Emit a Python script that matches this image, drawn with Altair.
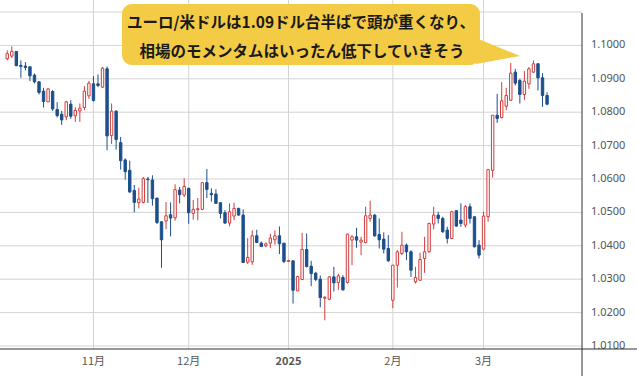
import altair as alt
import pandas as pd

# ---- data (daily EUR/USD candles, 2024-10-07 .. 2025-03-21) ----
dates = pd.bdate_range("2024-10-07", "2025-03-21").strftime("%Y-%m-%d").tolist()

opens = [
    1.0960, 1.0968, 1.0982, 1.0940, 1.0938, 1.0936, 1.0911, 1.0891, 1.0863, 1.0831,
    1.0862, 1.0808, 1.0794, 1.0786, 1.0824, 1.0789, 1.0804, 1.0814, 1.0849, 1.0885,
    1.0885, 1.0875, 1.0930, 1.0730, 1.0803, 1.0709, 1.0657, 1.0626, 1.0566, 1.0529,
    1.0530, 1.0600, 1.0597, 1.0543, 1.0472, 1.0474, 1.0493, 1.0484, 1.0567, 1.0552,
    1.0572, 1.0497, 1.0508, 1.0509, 1.0589, 1.0557, 1.0555, 1.0529, 1.0499, 1.0468,
    1.0489, 1.0512, 1.0492, 1.0351, 1.0352, 1.0430, 1.0408, 1.0400, 1.0408, 1.0418,
    1.0430, 1.0408, 1.0353, 1.0355, 1.0265, 1.0299, 1.0389, 1.0339, 1.0318, 1.0300,
    1.0243, 1.0240, 1.0307, 1.0290, 1.0305, 1.0290, 1.0417, 1.0427, 1.0411, 1.0410,
    1.0482, 1.0492, 1.0434, 1.0420, 1.0392, 1.0237, 1.0342, 1.0377, 1.0402, 1.0382,
    1.0292, 1.0297, 1.0362, 1.0382, 1.0465, 1.0492, 1.0482, 1.0447, 1.0422, 1.0505,
    1.0477, 1.0462, 1.0517, 1.0487, 1.0402, 1.0390, 1.0487, 1.0626, 1.0791, 1.0784,
    1.0818, 1.0836, 1.0920, 1.0895, 1.0853, 1.0885, 1.0920, 1.0945, 1.0903, 1.0850,
]
highs = [
    1.0985, 1.0997, 1.0983, 1.0955, 1.0950, 1.0936, 1.0916, 1.0893, 1.0873, 1.0870,
    1.0866, 1.0830, 1.0804, 1.0834, 1.0836, 1.0815, 1.0826, 1.0878, 1.0893, 1.0908,
    1.0913, 1.0935, 1.0937, 1.0826, 1.0806, 1.0726, 1.0662, 1.0655, 1.0582, 1.0574,
    1.0606, 1.0606, 1.0611, 1.0543, 1.0472, 1.0531, 1.0530, 1.0584, 1.0576, 1.0602,
    1.0574, 1.0537, 1.0543, 1.0591, 1.0630, 1.0572, 1.0569, 1.0530, 1.0507, 1.0527,
    1.0529, 1.0514, 1.0509, 1.0423, 1.0446, 1.0448, 1.0413, 1.0410, 1.0436, 1.0446,
    1.0458, 1.0408, 1.0358, 1.0356, 1.0310, 1.0439, 1.0437, 1.0355, 1.0322, 1.0311,
    1.0249, 1.0309, 1.0337, 1.0316, 1.0312, 1.0436, 1.0432, 1.0454, 1.0427, 1.0517,
    1.0535, 1.0495, 1.0482, 1.0440, 1.0432, 1.0342, 1.0387, 1.0442, 1.0407, 1.0387,
    1.0337, 1.0379, 1.0427, 1.0469, 1.0517, 1.0502, 1.0487, 1.0457, 1.0505, 1.0507,
    1.0527, 1.0522, 1.0527, 1.0487, 1.0417, 1.0502, 1.0628, 1.0791, 1.0855, 1.0890,
    1.0873, 1.0947, 1.0930, 1.0900, 1.0923, 1.0935, 1.0955, 1.0947, 1.0917, 1.0860,
]
lows = [
    1.0955, 1.0962, 1.0938, 1.0903, 1.0925, 1.0893, 1.0886, 1.0853, 1.0814, 1.0830,
    1.0804, 1.0784, 1.0762, 1.0776, 1.0780, 1.0771, 1.0771, 1.0806, 1.0840, 1.0832,
    1.0875, 1.0872, 1.0686, 1.0705, 1.0688, 1.0628, 1.0598, 1.0559, 1.0500, 1.0512,
    1.0527, 1.0528, 1.0520, 1.0465, 1.0334, 1.0450, 1.0428, 1.0475, 1.0527, 1.0546,
    1.0466, 1.0478, 1.0476, 1.0507, 1.0543, 1.0532, 1.0526, 1.0482, 1.0466, 1.0458,
    1.0477, 1.0490, 1.0348, 1.0345, 1.0343, 1.0408, 1.0396, 1.0396, 1.0393, 1.0403,
    1.0375, 1.0348, 1.0352, 1.0227, 1.0264, 1.0297, 1.0335, 1.0279, 1.0294, 1.0216,
    1.0177, 1.0237, 1.0263, 1.0268, 1.0266, 1.0287, 1.0342, 1.0394, 1.0372, 1.0407,
    1.0472, 1.0427, 1.0392, 1.0377, 1.0352, 1.0213, 1.0275, 1.0372, 1.0357, 1.0307,
    1.0287, 1.0295, 1.0319, 1.0379, 1.0449, 1.0467, 1.0439, 1.0407, 1.0421, 1.0457,
    1.0457, 1.0455, 1.0467, 1.0395, 1.0362, 1.0387, 1.0472, 1.0604, 1.0768, 1.0781,
    1.0806, 1.0834, 1.0880, 1.0826, 1.0836, 1.0870, 1.0917, 1.0865, 1.0816, 1.0821,
]
closes = [
    1.0975, 1.0982, 1.0939, 1.0937, 1.0934, 1.0909, 1.0891, 1.0859, 1.0832, 1.0870,
    1.0810, 1.0790, 1.0777, 1.0831, 1.0788, 1.0805, 1.0812, 1.0863, 1.0887, 1.0835,
    1.0880, 1.0932, 1.0729, 1.0803, 1.0718, 1.0655, 1.0622, 1.0561, 1.0530, 1.0540,
    1.0601, 1.0598, 1.0541, 1.0470, 1.0418, 1.0490, 1.0483, 1.0568, 1.0553, 1.0578,
    1.0499, 1.0509, 1.0511, 1.0589, 1.0569, 1.0553, 1.0527, 1.0497, 1.0468, 1.0502,
    1.0512, 1.0492, 1.0350, 1.0365, 1.0430, 1.0410, 1.0398, 1.0406, 1.0423, 1.0430,
    1.0406, 1.0353, 1.0356, 1.0267, 1.0308, 1.0389, 1.0338, 1.0317, 1.0299, 1.0245,
    1.0246, 1.0307, 1.0289, 1.0310, 1.0268, 1.0435, 1.0427, 1.0417, 1.0417, 1.0490,
    1.0492, 1.0430, 1.0418, 1.0390, 1.0355, 1.0342, 1.0382, 1.0402, 1.0382, 1.0327,
    1.0305, 1.0359, 1.0382, 1.0467, 1.0492, 1.0482, 1.0442, 1.0422, 1.0502, 1.0459,
    1.0467, 1.0517, 1.0482, 1.0397, 1.0372, 1.0489, 1.0628, 1.0791, 1.0781, 1.0834,
    1.0850, 1.0917, 1.0887, 1.0853, 1.0893, 1.0930, 1.0945, 1.0903, 1.0850, 1.0824,
]

month_idx = [19, 40, 62, 85, 105]
month_labels = ["11月", "12月", "2025", "2月", "3月"]
y_ticks = [1.01, 1.02, 1.03, 1.04, 1.05, 1.06, 1.07, 1.08, 1.09, 1.10, 1.11]
callout_lines = [
    "ユーロ/米ドルは1.09ドル台半ばで頭が重くなり、",
    "相場のモメンタムはいったん低下していきそう",
]

# ---- styling ----
RED = "#d23c3c"
BLUE = "#1c4f8c"
GRID = "#d3d3d3"
AXIS = "#333333"
YELLOW = "#F4CB45"
JP = "Noto Sans CJK JP"

df = pd.DataFrame({
    "i": list(range(len(dates))),
    "date": dates,
    "open": opens,
    "high": highs,
    "low": lows,
    "close": closes,
})

months_df = pd.DataFrame({"i": month_idx, "label": month_labels})
yt_df = pd.DataFrame({"v": y_ticks})
yt_df["label"] = [f"{v:.4f}" if v < 1.105 else "" for v in y_ticks]

x_scale = alt.Scale(domain=[-0.5, 125.6], nice=False, zero=False)
y_scale = alt.Scale(domain=[1.0091, 1.11], nice=False, zero=False)

# grid
hgrid = alt.Chart(yt_df).mark_rule(color=GRID, strokeWidth=1).encode(
    y=alt.Y("v:Q", scale=y_scale, axis=None), x=alt.value(0), x2=alt.value(582)
)
vgrid = alt.Chart(months_df).mark_rule(color=GRID, strokeWidth=1).encode(
    x=alt.X("i:Q", scale=x_scale, axis=None), y=alt.value(-12), y2=alt.value(337)
)

base = alt.Chart(df)
wicks = base.mark_rule(strokeWidth=1).encode(
    x=alt.X("i:Q", scale=x_scale, axis=None),
    y=alt.Y("low:Q", scale=y_scale, axis=None),
    y2="high:Q",
    color=alt.condition("datum.close >= datum.open", alt.value(RED), alt.value(BLUE)),
)
bodies_down = base.transform_filter("datum.close < datum.open").mark_bar(
    size=2.4, fill=BLUE, stroke=BLUE, strokeWidth=1
).encode(
    x=alt.X("i:Q", scale=x_scale, axis=None),
    y=alt.Y("open:Q", scale=y_scale, axis=None),
    y2="close:Q",
)
bodies_up = base.transform_filter("datum.close >= datum.open").mark_bar(
    size=2.4, fill="white", stroke=RED, strokeWidth=1
).encode(
    x=alt.X("i:Q", scale=x_scale, axis=None),
    y=alt.Y("open:Q", scale=y_scale, axis=None),
    y2="close:Q",
)

# axis labels
ylabels = alt.Chart(yt_df).mark_text(
    align="left", baseline="middle", dx=9, fontSize=11, font="Noto Sans", color="#555555"
).encode(
    y=alt.Y("v:Q", scale=y_scale, axis=None), x=alt.value(582), text="label:N"
)
xlabels = alt.Chart(months_df).transform_filter("datum.label != '2025'").mark_text(
    align="center", baseline="middle", fontSize=11, font=JP, color="#555555"
).encode(
    x=alt.X("i:Q", scale=x_scale, axis=None), y=alt.value(350), text="label:N"
)
xlabels_bold = alt.Chart(months_df).transform_filter("datum.label == '2025'").mark_text(
    align="center", baseline="middle", fontSize=11, font=JP, color="#555555",
    fontWeight="bold",
).encode(
    x=alt.X("i:Q", scale=x_scale, axis=None), y=alt.value(350), text="label:N"
)

one = alt.Data(values=[{"k": 0}])

# white patch clipping the lowest price label, as in the reference
patch = alt.Chart(one).mark_rect(color="white").encode(
    x=alt.value(583), x2=alt.value(640), y=alt.value(338), y2=alt.value(370)
)
axis_v = alt.Chart(one).mark_rule(color=AXIS, strokeWidth=1).encode(
    x=alt.value(582), y=alt.value(1), y2=alt.value(364)
)
axis_h = alt.Chart(one).mark_rule(color=AXIS, strokeWidth=1).encode(
    x=alt.value(0), x2=alt.value(637), y=alt.value(337)
)

bubble = alt.Chart(one).mark_rect(color=YELLOW, cornerRadius=10).encode(
    x=alt.value(122), x2=alt.value(480), y=alt.value(-8), y2=alt.value(53)
)
tail = alt.Chart(one).mark_point(
    shape="M -0.88 -0.52 L 0.88 0.2 L -0.88 0.52 Z",
    filled=True, size=2500, color=YELLOW, opacity=1, strokeWidth=0,
).encode(x=alt.value(498), y=alt.value(39))

text1 = alt.Chart(one).mark_text(
    text=callout_lines[0], font=JP, fontSize=15.5, fontWeight="bold",
    color="#1a1a1a", align="center", baseline="middle",
).encode(x=alt.value(301), y=alt.value(11))
text2 = alt.Chart(one).mark_text(
    text=callout_lines[1], font=JP, fontSize=15.5, fontWeight="bold",
    color="#1a1a1a", align="center", baseline="middle",
).encode(x=alt.value(302), y=alt.value(39.5))

chart = alt.layer(
    hgrid, vgrid, wicks, bodies_down, bodies_up, ylabels, xlabels, xlabels_bold,
    patch, axis_v, axis_h, bubble, tail, text1, text2
).properties(
    width=582, height=337,
    autosize=alt.AutoSizeParams(type="none"),
    padding={"left": 0, "top": 12, "right": 55, "bottom": 27},
    background="white",
).configure_view(strokeWidth=0)

chart.save("out.html", embed_options={"renderer": "svg", "actions": False})
